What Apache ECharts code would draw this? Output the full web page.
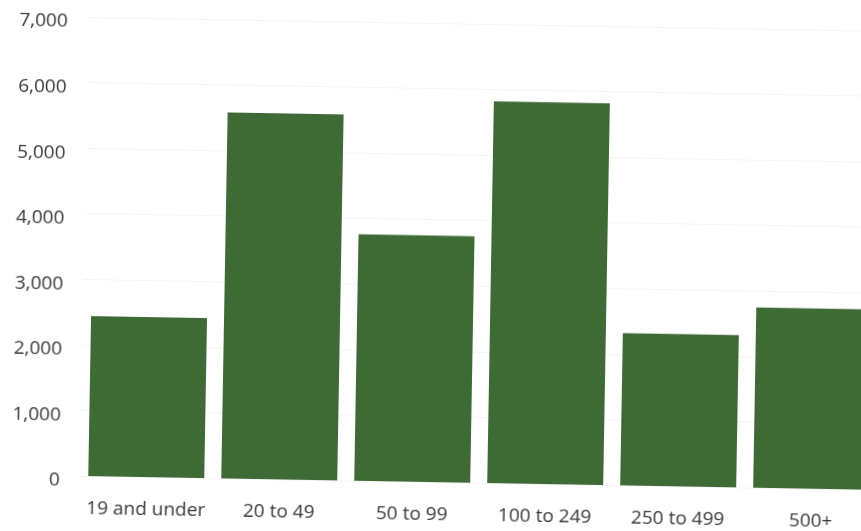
<!DOCTYPE html>
<html>
<head>
<meta charset="utf-8">
<script src="https://cdn.jsdelivr.net/npm/echarts@6/dist/echarts.min.js"></script>
<style>
  html, body { margin: 0; padding: 0; background: #ffffff; overflow: hidden; width: 861px; height: 531px; }
  #chart { position: absolute; left: 0; top: 0; width: 900px; height: 531px;
           transform: rotate(1deg); transform-origin: 430px 265px; }
</style>
</head>
<body>
<div id="chart"></div>
<script>
const categories = ['19 and under', '20 to 49', '50 to 99', '100 to 249', '250 to 499', '500+'];
const values = [2440, 5580, 3760, 5820, 2320, 2750];
const yTicks = [0, 1000, 2000, 3000, 4000, 5000, 6000, 7000];

const chart = echarts.init(document.getElementById('chart'), null, { renderer: 'canvas' });
chart.setOption({
  animation: false,
  backgroundColor: '#ffffff',
  grid: { left: 83.5, right: 18.5, top: 23, bottom: 49, containLabel: false },
  xAxis: {
    type: 'category',
    data: categories,
    axisLine: { show: false },
    axisTick: { show: false },
    axisLabel: {
      color: '#383838',
      fontFamily: 'Open Sans',
      fontSize: 19,
      margin: 23,
      interval: 0
    }
  },
  yAxis: {
    type: 'value',
    min: yTicks[0],
    max: yTicks[yTicks.length - 1],
    interval: 1000,
    axisLine: { show: false },
    axisTick: { show: false },
    splitLine: { show: true, lineStyle: { color: '#f5f5f5', width: 1 } },
    axisLabel: {
      color: '#383838',
      fontFamily: 'Open Sans',
      fontSize: 19,
      margin: 20,
      formatter: v => '{a|' + v.toLocaleString('en-US') + '}',
      rich: {
        a: { color: '#383838', fontFamily: 'Open Sans', fontSize: 19, padding: [10, 0, 0, 0] }
      }
    }
  },
  series: [{
    type: 'bar',
    data: values,
    barCategoryGap: '12.8%',
    itemStyle: { color: '#3e6a36' }
  }]
});
</script>
</body>
</html>
